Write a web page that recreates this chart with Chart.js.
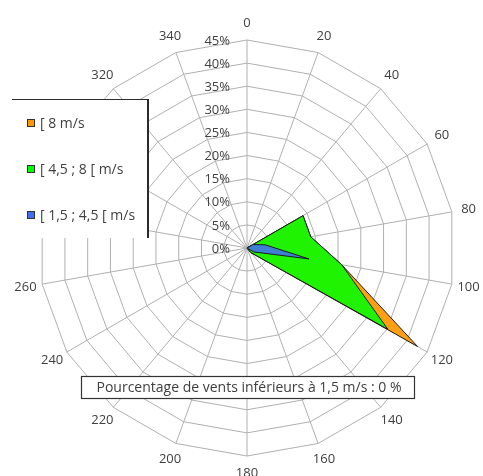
<!DOCTYPE html>
<html lang="fr">
<head>
<meta charset="utf-8">
<title>Rose des vents</title>
<script src="https://cdn.jsdelivr.net/npm/chart.js@4/dist/chart.umd.min.js"></script>
<style>
  html, body { margin: 0; padding: 0; background: #ffffff; }
  canvas { display: block; }
</style>
</head>
<body>
<canvas id="rose" width="483" height="476"></canvas>
<script>
// Wind directions (degrees), one spoke every 20°
const directions = [0, 20, 40, 60, 80, 100, 120, 140, 160, 180, 200, 220, 240, 260, 280, 300, 320, 340];

// Cumulative frequency (%) reached by each speed class
const cumulAll   = [0, 0, 0, 14, 14, 20.8, 42.6, 1.3, 0, 0, 0, 0, 0, 0, 0, 0, 0, 0]; // up to "[ 8 m/s"
const cumulTo8   = [0, 0, 0, 14, 14, 20.8, 35.2, 1.3, 0, 0, 0, 0, 0, 0, 0, 0, 0, 0]; // up to "[ 4,5 ; 8 [ m/s"
const cumulTo4_5 = [0, 0, 0, 1.5, 4, 13.6, 1.7, 0, 0, 0, 0, 0, 0, 0, 0, 0, 0, 0];    // "[ 1,5 ; 4,5 [ m/s"

// Radial axis ticks (%)
const radialTicks = [0, 5, 10, 15, 20, 25, 30, 35, 40, 45];

const classNames = ['[ 8 m/s', '[ 4,5 ; 8 [ m/s', '[ 1,5 ; 4,5 [ m/s'];
const classColors = ['#ff9800', '#00ff00', '#416ef0'];
const calmNote = 'Pourcentage de vents inférieurs à 1,5 m/s : 0 %';

const FONT = '"Open Sans", "Noto Sans", sans-serif';
const TEXT = '#404040';

// Direction labels and % ticks, drawn around / along the polar grid
const axisText = {
  id: 'axisText',
  afterDatasetsDraw(chart) {
    const r = chart.scales.r;
    const ctx = chart.ctx;
    ctx.save();
    ctx.fillStyle = TEXT;
    ctx.font = '13px ' + FONT;
    ctx.textAlign = 'right';
    ctx.textBaseline = 'middle';
    radialTicks.forEach(v => {
      const y = r.yCenter - r.getDistanceFromCenterForValue(v);
      ctx.fillText(v + '%', r.xCenter - 17, y + 1);
    });
    ctx.textAlign = 'center';
    directions.forEach((d, i) => {
      const p = r.getPointPosition(i, r.drawingArea + 17);
      ctx.fillText(String(d), p.x, p.y);
    });
    ctx.restore();
  }
};

// Legend panel on the left and the calm-wind note box
const panels = {
  id: 'panels',
  afterDraw(chart) {
    const ctx = chart.ctx;
    ctx.save();
    // legend panel
    ctx.fillStyle = '#ffffff';
    ctx.fillRect(0, 99, 148, 139);
    ctx.strokeStyle = '#2b2b2b';
    ctx.lineWidth = 1.2;
    ctx.beginPath();
    ctx.moveTo(12, 99.5);
    ctx.lineTo(148, 99.5);
    ctx.stroke();
    ctx.lineWidth = 2;
    ctx.beginPath();
    ctx.moveTo(148, 99);
    ctx.lineTo(148, 238);
    ctx.stroke();

    ctx.font = '14px ' + FONT;
    ctx.textAlign = 'left';
    ctx.textBaseline = 'middle';
    classNames.forEach((name, i) => {
      const y = 123 + i * 46;
      ctx.fillStyle = classColors[i];
      ctx.fillRect(27, y - 4, 8, 8);
      ctx.strokeStyle = '#333333';
      ctx.lineWidth = 1;
      ctx.strokeRect(27.5, y - 3.5, 7, 7);
      ctx.fillStyle = TEXT;
      ctx.fillText(name, 40, y + 1);
    });

    // calm-wind note
    ctx.fillStyle = '#ffffff';
    ctx.fillRect(81, 376, 334, 23);
    ctx.strokeStyle = '#333333';
    ctx.lineWidth = 1.2;
    ctx.strokeRect(81.5, 376.5, 333, 22);
    ctx.fillStyle = TEXT;
    ctx.font = '14px ' + FONT;
    ctx.textAlign = 'center';
    ctx.fillText(calmNote, 249, 388.5);
    ctx.restore();
  }
};

const fill = (hex, a) => {
  const n = parseInt(hex.slice(1), 16);
  return `rgba(${(n >> 16) & 255}, ${(n >> 8) & 255}, ${n & 255}, ${a})`;
};

new Chart(document.getElementById('rose'), {
  type: 'radar',
  data: {
    labels: directions.map(String),
    datasets: [
      { label: classNames[2], data: cumulTo4_5, backgroundColor: fill(classColors[2], 0.88), borderColor: '#1c1c1c', borderWidth: 1, fill: true },
      { label: classNames[1], data: cumulTo8,   backgroundColor: fill(classColors[1], 0.88), borderColor: '#1c1c1c', borderWidth: 1, fill: true },
      { label: classNames[0], data: cumulAll,   backgroundColor: fill(classColors[0], 0.92), borderColor: '#1c1c1c', borderWidth: 1, fill: true }
    ]
  },
  options: {
    responsive: false,
    animation: false,
    layout: { padding: { left: 39, right: 28, top: 40, bottom: 20 } },
    elements: { line: { tension: 0 }, point: { radius: 0, hoverRadius: 0 } },
    plugins: { legend: { display: false }, tooltip: { enabled: false } },
    scales: {
      r: {
        min: 0,
        max: 45,
        ticks: { display: false, stepSize: 5 },
        grid: { circular: false, color: '#b0b0b0', lineWidth: 1 },
        angleLines: { color: '#b0b0b0', lineWidth: 1 },
        pointLabels: { display: false }
      }
    }
  },
  plugins: [axisText, panels]
});
</script>
</body>
</html>
